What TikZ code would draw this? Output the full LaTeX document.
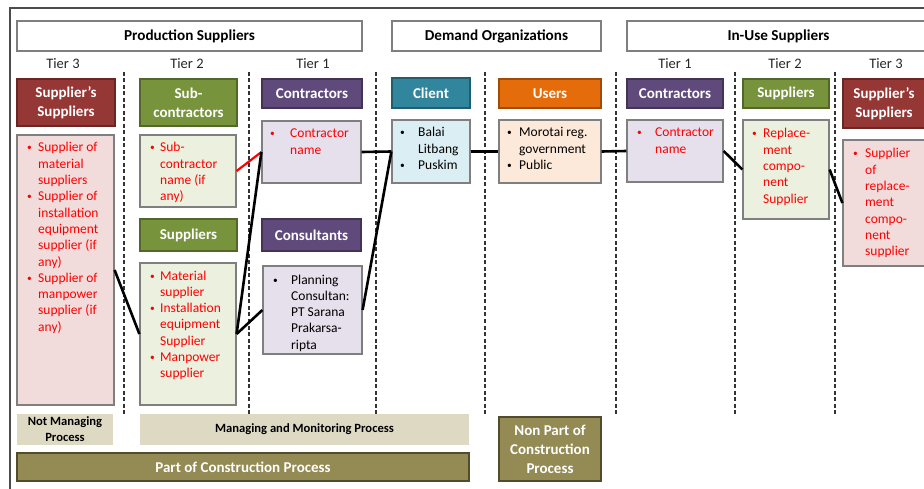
\documentclass[tikz,border=0pt]{standalone}
\usepackage{fontspec}
\setmainfont{Carlito}
\newcommand{\fsz}[2]{\fontsize{#1}{#2}\selectfont}
\newcommand{\bb}[1]{\makebox[#1][l]{\raisebox{1pt}{\scalebox{0.7}{\textbullet}}}}
\definecolor{cred}{HTML}{953735}
\definecolor{colive}{HTML}{77933C}
\definecolor{cpurple}{HTML}{604A7B}
\definecolor{cteal}{HTML}{31859C}
\definecolor{corange}{HTML}{E46C0A}
\definecolor{ckhaki}{HTML}{948A54}
\definecolor{cbeige}{HTML}{DDD9C3}
\definecolor{cpink}{HTML}{F2DCDB}
\definecolor{cgreen}{HTML}{EBF1DE}
\definecolor{clav}{HTML}{E5E0EC}
\definecolor{cblue}{HTML}{DBEEF4}
\definecolor{cpeach}{HTML}{FDE9D9}
\definecolor{cborder}{HTML}{7F7F7F}
\definecolor{ctxt}{HTML}{262626}
\begin{document}
\begin{tikzpicture}[x=1pt,y=-1pt,
  ttl/.style={draw=cborder, line width=1.3pt, fill=white, inner sep=0pt, font=\bfseries\fsz{15.2}{17}, text=black},
  hdr/.style={draw=#1!70!black, fill=#1, line width=1.2pt, inner sep=0pt, text=white, align=center, font=\bfseries\fsz{15}{19}},
  cbox/.style={draw=cborder, fill=#1, line width=1.2pt, inner sep=0pt},
  ctext/.style={anchor=base west, inner sep=0pt, font=\fsz{13.5}{16.3}, text=#1},
  tier/.style={font=\fsz{14.5}{17}, text=ctxt, inner sep=0pt},
  sep/.style={line width=1.5pt, black!80, dash pattern=on 4pt off 2.5pt},
  conn/.style={line width=2.6pt, black},
  procbox/.style={fill=cbeige, inner sep=0pt, align=center, font=\bfseries\fsz{12.6}{16}, text=black},
  constr/.style={draw=ckhaki!55!black, fill=ckhaki, line width=1.2pt, inner sep=0pt, align=center, text=white, font=\bfseries\fsz{15}{19}}
]
\useasboundingbox (0,0) rectangle (924,489);
\clip (0,0) rectangle (924,489);
% outer frame
\draw[black!70, line width=1.2pt] (10,489) -- (10,8) -- (930,8);

% titles
\node[ttl, minimum width=345pt, minimum height=30pt] (tprod) at (189.5,36) {Production Suppliers};
\node[ttl, minimum width=209pt, minimum height=30pt] (tdem) at (496.5,36) {Demand Organizations};
\node[ttl, minimum width=303pt, minimum height=30pt] (tuse) at (778.5,36) {In-Use Suppliers};

% tiers
\node[tier] (tl3) at (63,64) {Tier 3};
\node[tier] (tl2) at (187,64) {Tier 2};
\node[tier] (tl1) at (313,64) {Tier 1};
\node[tier] (tr1) at (675,64) {Tier 1};
\node[tier] (tr2) at (785,64) {Tier 2};
\node[tier] (tr3) at (886,64) {Tier 3};

% dashed separators
\foreach \xx in {124,249,376,485,616,735,835}
  \draw[sep] (\xx,72) -- (\xx,415);

% colored headers
\node[hdr=cred, minimum width=98pt, minimum height=47pt] (hssL) at (66,102.5) {Supplier’s\\Suppliers};
\node[hdr=colive, minimum width=97pt, minimum height=47pt] (hsub) at (188.5,102.5) {Sub-\\contractors};
\node[hdr=cpurple, minimum width=100pt, minimum height=29pt] (hconL) at (312,93.5) {Contractors};
\node[hdr=colive, minimum width=97pt, minimum height=32pt] (hsupL) at (188.5,235) {Suppliers};
\node[hdr=cpurple, minimum width=99pt, minimum height=32pt] (hcons) at (311.5,235) {Consultants};
\node[hdr=cteal, minimum width=78pt, minimum height=30pt] (hcli) at (431,93) {Client};
\node[hdr=corange, minimum width=102pt, minimum height=29pt] (huse) at (550,93.5) {Users};
\node[hdr=cpurple, minimum width=96pt, minimum height=29pt] (hconR) at (675,93.5) {Contractors};
\node[hdr=colive, minimum width=86pt, minimum height=29pt] (hsupR) at (786,93.5) {Suppliers};
\node[hdr=cred, minimum width=82pt, minimum height=49pt] (hssR) at (884,103.5) {Supplier’s\\Suppliers};

% content boxes
\node[cbox=cpink, minimum width=97pt, minimum height=270pt] (c3L) at (65.5,270) {};
\node[cbox=cgreen, minimum width=96pt, minimum height=72pt] (csub) at (188,171) {};
\node[cbox=cgreen, minimum width=96pt, minimum height=142pt] (csup) at (188,334) {};
\node[cbox=clav, minimum width=99pt, minimum height=62pt] (cconL) at (311.5,152) {};
\node[cbox=clav, minimum width=99pt, minimum height=88pt] (ccons) at (312.5,310) {};
\node[cbox=cblue, minimum width=78pt, minimum height=63pt] (ccli) at (431,151.5) {};
\node[cbox=cpeach, minimum width=102pt, minimum height=63pt] (cuse) at (550,151.5) {};
\node[cbox=clav, minimum width=96pt, minimum height=62pt] (cconR) at (675,151) {};
\node[cbox=cgreen, minimum width=86pt, minimum height=99pt] (csupR) at (786,169.5) {};
\node[cbox=cpink, minimum width=82pt, minimum height=126pt] (c3R) at (884,203) {};

% content texts
\node[ctext=red] (x3L) at (27,152) {\begin{tabular}[t]{@{}l@{}l@{}}
\bb{11pt}&Supplier of\\&material\\&suppliers\\
\bb{11pt}&Supplier of\\&installation\\&equipment\\&supplier (if\\&any)\\
\bb{11pt}&Supplier of\\&manpower\\&supplier (if\\&any)\end{tabular}};
\node[ctext=red] (xsub) at (150,152) {\begin{tabular}[t]{@{}l@{}l@{}}
\bb{10pt}&Sub-\\&contractor\\&name (if\\&any)\end{tabular}};
\node[ctext=red] (xsup) at (150,280) {\begin{tabular}[t]{@{}l@{}l@{}}
\bb{10pt}&Material\\&supplier\\
\bb{10pt}&Installation\\&equipment\\&Supplier\\
\bb{10pt}&Manpower\\&supplier\end{tabular}};
\node[ctext=red] (xconL) at (270,138) {\begin{tabular}[t]{@{}l@{}l@{}}
\bb{20pt}&Contractor\\&name\end{tabular}};
\node[ctext=black] (xcons) at (273,284) {\begin{tabular}[t]{@{}l@{}l@{}}
\bb{18pt}&Planning\\&Consultan:\\&PT Sarana\\&Prakarsa-\\&ripta\end{tabular}};
\node[ctext=black] (xcli) at (400,137) {\begin{tabular}[t]{@{}l@{}l@{}}
\bb{18pt}&Balai\\&Litbang\\\bb{18pt}&Puskim\end{tabular}};
\node[ctext=black] (xuse) at (507,137) {\begin{tabular}[t]{@{}l@{}l@{}}
\bb{12pt}&Morotai reg.\\&government\\\bb{12pt}&Public\end{tabular}};
\node[ctext=red] (xconR) at (637,137) {\begin{tabular}[t]{@{}l@{}l@{}}
\bb{18pt}&Contractor\\&name\end{tabular}};
\node[ctext=red] (xsupR) at (752,138) {\begin{tabular}[t]{@{}l@{}l@{}}
\bb{11pt}&Replace-\\&ment\\&compo-\\&nent\\&Supplier\end{tabular}};
\node[ctext=red] (x3R) at (853,158) {\begin{tabular}[t]{@{}l@{}l@{}}
\bb{12pt}&Supplier\\&of\\&replace-\\&ment\\&compo-\\&nent\\&supplier\end{tabular}};

% process boxes
\node[procbox, minimum width=96pt, minimum height=31pt] (pnot) at (65,429.5) {Not Managing\\Process};
\node[procbox, minimum width=329pt, minimum height=31pt] (pman) at (304.5,429.5) {Managing and Monitoring Process};
\node[constr, minimum width=452pt, minimum height=28pt] (ppart) at (243,467) {Part of Construction Process};
\node[constr, minimum width=102pt, minimum height=64pt] (pnon) at (550,449) {Non Part of\\Construction\\Process};

% connectors
\draw[line width=2.2pt, red] (csub.east) -- (cconL.west);
\draw[conn] (c3L.east) -- (csup.west);
\draw[conn] (csup.east) -- (cconL.west);
\draw[conn] (csup.east) -- (ccons.west);
\draw[conn] (cconL.east) -- (ccli.west);
\draw[conn] (ccons.east) -- (ccli.west);
\draw[conn] (ccli.east) -- (cuse.west);
\draw[conn] (cuse.east) -- (cconR.west);
\draw[conn] (cconR.east) -- (csupR.west);
\draw[conn] (csupR.east) -- (c3R.west);
\end{tikzpicture}
\end{document}
